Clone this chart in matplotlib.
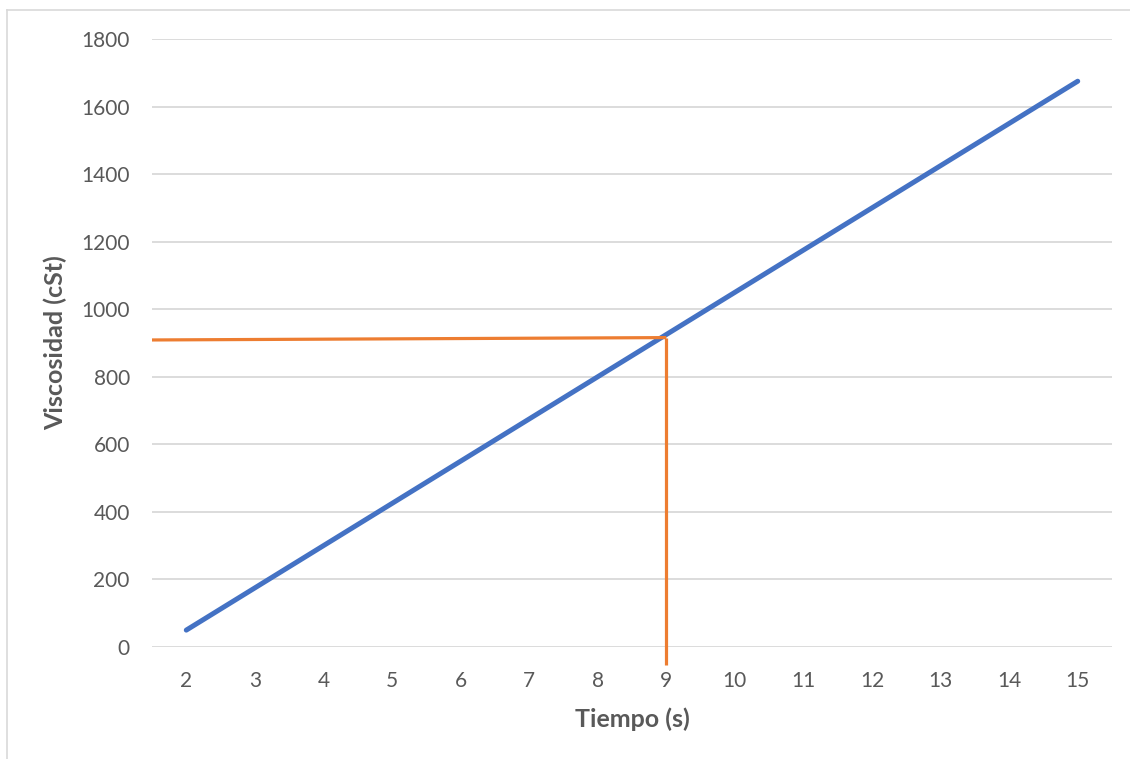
import matplotlib
matplotlib.use("Agg")
import matplotlib.pyplot as plt
from matplotlib.lines import Line2D

plt.rcParams['font.family'] = ['Lato', 'DejaVu Sans']

tiempo = [2, 3, 4, 5, 6, 7, 8, 9, 10, 11, 12, 13, 14, 15]
viscosidad = [50, 175, 300, 425, 550, 675, 800, 925, 1050, 1175, 1300, 1425, 1550, 1675]
y_ticks = [0, 200, 400, 600, 800, 1000, 1200, 1400, 1600, 1800]
lectura_t = 9
lectura_v_izq = 909
lectura_v = 916
lectura_fondo = -53

W, H = 1130, 759
fig = plt.figure(figsize=(W / 100, H / 100), dpi=100)
ax = fig.add_axes([152 / W, (H - 647) / H, 960 / W, 608 / H])

pos = list(range(len(tiempo)))
ax.plot(pos, viscosidad, color='#4472C4', lw=3.6, solid_capstyle='round', zorder=3)

xi = tiempo.index(lectura_t)
ax.plot([-0.5, xi], [lectura_v_izq, lectura_v], color='#ED7D31', lw=2.3, zorder=4,
        clip_on=False, solid_capstyle='butt')
ax.plot([xi, xi], [lectura_v, lectura_fondo], color='#ED7D31', lw=2.3, zorder=4,
        clip_on=False, solid_capstyle='butt')

ax.set_xlim(-0.5, len(tiempo) - 0.5)
ax.set_ylim(0, 1800)
ax.set_xticks(pos)
ax.set_xticklabels([str(t) for t in tiempo])
ax.set_yticks(y_ticks)
ax.grid(axis='y', color='#D9D9D9', lw=1.3, zorder=0)
ax.set_axisbelow(True)
for s in ax.spines.values():
    s.set_visible(False)
ax.tick_params(axis='both', length=0, labelsize=15, labelcolor='#595959')
ax.tick_params(axis='x', pad=17)
ax.tick_params(axis='y', pad=16)

ax.set_xlabel('Tiempo (s)', fontsize=18, fontweight='bold', color='#595959', labelpad=12)
ax.set_ylabel('Viscosidad (cSt)', fontsize=18, fontweight='bold', color='#595959', labelpad=10)

# chart border (left and top visible)
fig.add_artist(Line2D([7 / W, 7 / W], [0, 1 - 10 / H], transform=fig.transFigure,
                      color='#D9D9D9', lw=1.2))
fig.add_artist(Line2D([7 / W, 1], [1 - 10 / H, 1 - 10 / H], transform=fig.transFigure,
                      color='#D9D9D9', lw=1.2))

fig.savefig('out.png', dpi=100)
